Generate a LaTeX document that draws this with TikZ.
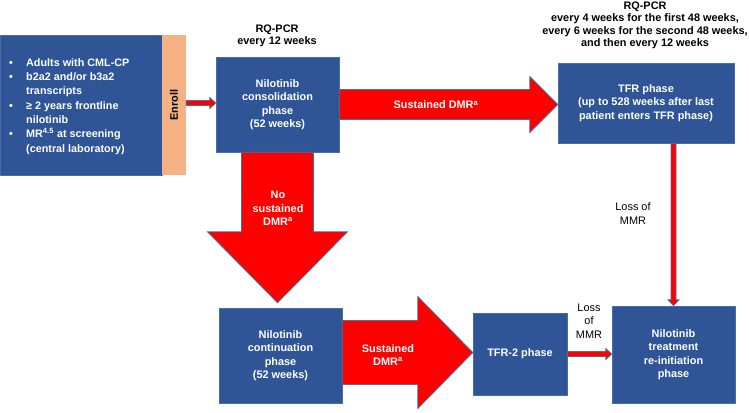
\documentclass[tikz,border=0pt]{standalone}
\usepackage{fontspec}
\setmainfont{Liberation Sans}
\usetikzlibrary{calc}
\definecolor{boxblue}{RGB}{47,85,151}
\definecolor{boxedge}{RGB}{70,110,170}
\definecolor{arrowedge}{RGB}{65,113,156}
\definecolor{enrollorange}{RGB}{244,177,131}
\definecolor{arrowred}{RGB}{255,0,0}
\newcommand\hblockarrow[6][]{\draw[#1] let \p1=(#2), \p2=(#3) in
  (\x1,\y1+#4) -- (\x2-#6,\y1+#4) -- (\x2-#6,\y1+#5) -- (\x2,\y1) --
  (\x2-#6,\y1-#5) -- (\x2-#6,\y1-#4) -- (\x1,\y1-#4) -- cycle;}
\newcommand\vblockarrow[6][]{\draw[#1] let \p1=(#2), \p2=(#3) in
  (\x1-#4,\y1) -- (\x1-#4,\y2+#6) -- (\x1-#5,\y2+#6) -- (\x1,\y2) --
  (\x1+#5,\y2+#6) -- (\x1+#4,\y2+#6) -- (\x1+#4,\y1) -- cycle;}
\tikzset{
  phasebox/.style={fill=boxblue, draw=boxedge, line width=0.5pt, text=white,
    font=\bfseries\fontsize{10.9}{13.4}\selectfont, align=center, inner sep=0pt},
  bigarrow/.style={fill=arrowred, draw=arrowedge, line width=0.8pt},
  thinarrow/.style={fill=arrowred, draw=arrowedge, line width=0.7pt},
  headlabel/.style={font=\bfseries\fontsize{10.9}{12.4}\selectfont, align=center, text=black},
  arrowlabel/.style={font=\bfseries\fontsize{10.9}{13.5}\selectfont, align=center, text=white},
  losslabel/.style={font=\fontsize{10.9}{13.5}\selectfont, align=center, text=black}
}
\begin{document}
\begin{tikzpicture}[x=1pt,y=-1pt]
\useasboundingbox (0,0) rectangle (749,412);
% boxes
\node[phasebox, minimum width=162pt, minimum height=140pt] (crit) at (81,105) {};
\node[fill=enrollorange, minimum width=24pt, minimum height=140pt, inner sep=0pt] (enroll) at (174,105) {};
\node[rotate=90, font=\bfseries\fontsize{10.9}{12}\selectfont] (enrolltxt) at (enroll.center) {Enroll};
\node[anchor=north west, inner sep=0pt, text=white, font=\bfseries\fontsize{10.8}{14.3}\selectfont] (critlist) at (9,56)
 {\begin{tabular}{@{}p{17pt}@{}l@{}}
  \textbullet & Adults with CML-CP\\
  \textbullet & b2a2 and/or b3a2\\
              & transcripts\\
  \textbullet & ≥ 2 years frontline\\
              & nilotinib\\
  \textbullet & MR\textsuperscript{4.5} at screening\\
              & (central laboratory)
 \end{tabular}};
\node[phasebox, minimum width=123pt, minimum height=95pt] (cons) at (277.5,104.5)
  {Nilotinib\\consolidation\\phase\\(52 weeks)};
\node[phasebox, minimum width=176pt, minimum height=80pt] (tfr) at (646,103)
  {TFR phase\\(up to 528 weeks after last\\patient enters TFR phase)};
\node[phasebox, minimum width=123pt, minimum height=95pt] (cont) at (280.5,355.5)
  {Nilotinib\\continuation\\phase\\(52 weeks)};
\node[phasebox, minimum width=94pt, minimum height=82pt] (tfr2) at (520,354) {TFR-2 phase};
\node[phasebox, minimum width=123pt, minimum height=97pt] (reinit) at (673.5,354.5)
  {Nilotinib\\treatment\\re-initiation\\phase};
% heading labels
\node[headlabel] (rq1) at (277,36) {RQ-PCR\\every 12 weeks};
\node[headlabel] (rq2) at (645,25.5) {RQ-PCR\\every 4 weeks for the first 48 weeks,\\every 6 weeks for the second 48 weeks,\\and then every 12 weeks};
% big arrows
\hblockarrow[bigarrow]{cons.east}{tfr.west}{15pt}{28pt}{28pt}
\vblockarrow[bigarrow]{cons.south}{[yshift=5pt]cont.north}{36pt}{70pt}{71pt}
\hblockarrow[bigarrow]{[yshift=3pt]cont.east}{tfr2.west}{32pt}{56pt}{55pt}
% thin arrows
\hblockarrow[thinarrow]{[yshift=2pt]enroll.east}{cons.west}{2.5pt}{5.5pt}{6pt}
\vblockarrow[thinarrow]{tfr.south -| reinit.north}{reinit.north}{2.5pt}{5.5pt}{6pt}
\hblockarrow[thinarrow]{tfr2.east}{reinit.west}{2.5pt}{5.5pt}{6pt}
% arrow labels
\node[arrowlabel] (l1) at (436,105) {Sustained DMR\textsuperscript{a}};
\node[arrowlabel] (l2) at (278,208.5) {No\\sustained\\DMR\textsuperscript{a}};
\node[arrowlabel] (l3) at (388,355) {Sustained\\DMR\textsuperscript{a}};
\node[losslabel] (l4) at (633,213.5) {Loss of\\MMR};
\node[losslabel] (l5) at (589,321) {Loss\\of\\MMR};
\end{tikzpicture}
\end{document}
